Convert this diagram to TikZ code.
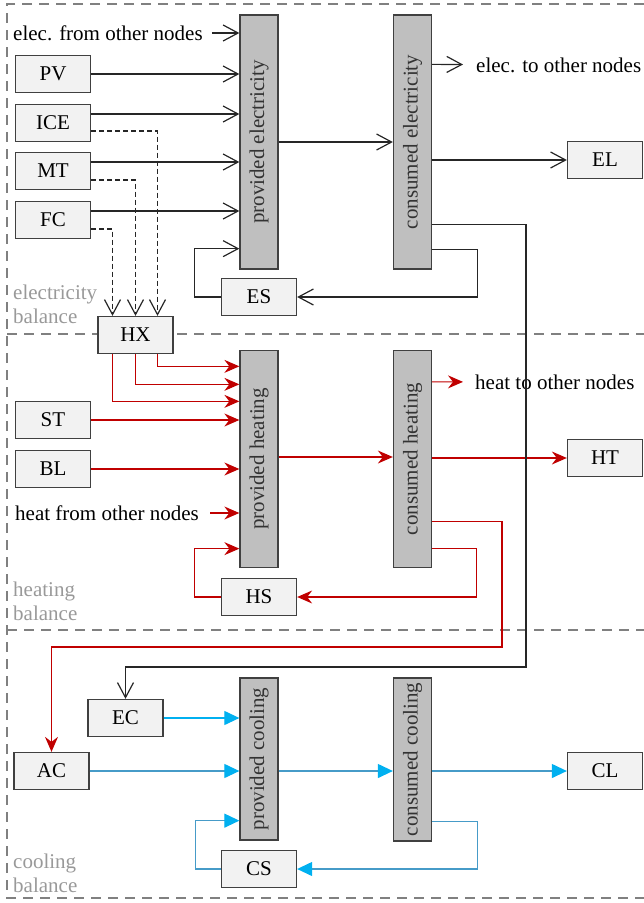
\documentclass[tikz,border=0pt]{standalone}
\usepackage{graphicx}
\usepackage{fontspec}
\setmainfont{Liberation Serif}
\usetikzlibrary{arrows.meta}

\definecolor{heatred}{RGB}{192,0,0}
\definecolor{coolline}{RGB}{70,155,200}
\definecolor{coolhead}{RGB}{0,176,240}
\definecolor{boxfill}{RGB}{242,242,242}
\definecolor{barfill}{RGB}{191,191,191}

\tikzset{
  unit/.style={draw=black!75, fill=boxfill, line width=1.3pt, minimum width=75pt, minimum height=37pt, inner sep=0pt},
  bar/.style={draw=black!75, fill=barfill, line width=1.3pt, minimum width=38pt, inner sep=0pt, text=black!80},
  lbl/.style={inner sep=0pt},
  zone/.style={anchor=base west, align=left, text=black!40, inner sep=0pt},
  elec/.style={black!85, line width=1.2pt, -{Straight Barb[length=15pt, width=16pt]}},
  heat/.style={heatred, line width=1.2pt, -{Stealth[length=15pt, width=13pt, inset=5pt]}},
  cool/.style={coolline, line width=1.2pt, -{Triangle[length=15pt, width=14pt, color=coolhead]}},
  hxdash/.style={dash pattern=on 5pt off 3pt},
  frame/.style={gray, line width=2.5pt, dash pattern=on 10pt off 7pt}
}

\begin{document}
\begin{tikzpicture}[x=1pt, y=-1pt, font=\fontsize{21}{24}\selectfont]
  \useasboundingbox (0,0) rectangle (644,903);

  % 1. Khung ba vung can bang
  \draw[frame] (644,4) -- (7,4) -- (7,898) -- (644,898);
  \draw[frame] (7,334) -- (644,334);
  \draw[frame] (7,630) -- (644,630);
  \node[zone] (zelec) at (13,323) {electricity\\balance};
  \node[zone] (zheat) at (13,620) {heating\\balance};
  \node[zone] (zcool) at (13,892) {cooling\\balance};

  % 2. Can bang dien
  \node[bar, minimum height=254pt] (pelec) at (259,142) {\rotatebox{90}{provided electricity}};
  \node[bar, minimum height=254pt] (celec) at (412.5,142) {\rotatebox{90}{consumed electricity}};
  \node[unit] (pv) at (53,74) {PV};
  \node[unit] (ice) at (53,123) {ICE};
  \node[unit] (mt) at (53,171) {MT};
  \node[unit] (fc) at (53,220) {FC};
  \node[unit] (es) at (259,297) {ES};
  \node[unit] (el) at (605,160) {EL};
  \node[lbl, anchor=west] (efrom) at (13,33) {elec. from other nodes};
  \node[lbl, anchor=west] (eto) at (476,65) {elec. to other nodes};

  \draw[elec, shorten <=9pt] (efrom) -- (efrom -| pelec.west);
  \draw[elec] (pv) -- (pv -| pelec.west);
  \draw[elec] ([yshift=9]ice.east) -- ([yshift=9]ice.east -| pelec.west);
  \draw[elec] ([yshift=9]mt.east) -- ([yshift=9]mt.east -| pelec.west);
  \draw[elec] ([yshift=9]fc.east) -- ([yshift=9]fc.east -| pelec.west);
  \draw[elec] (es.west) -- ++(-26,0) |- ([yshift=21]pelec.south west);
  \draw[elec] (pelec) -- (celec);
  \draw[elec, shorten >=13pt] ([yshift=-50]celec.north east) -- (eto);
  \draw[elec] (celec.east |- el) -- (el);
  \draw[elec] ([yshift=20]celec.south east) -- ++(45,0) |- (es.east);

  % 3. Bo trao doi nhiet HX (duong net dut)
  \node[unit] (hx) at (135.5,335) {HX};
  \draw[elec, hxdash] ([yshift=-8]ice.east) -| ([xshift=22]hx.north);
  \draw[elec, hxdash] ([yshift=-9]mt.east) -| (hx.north);
  \draw[elec, hxdash] ([yshift=-9]fc.east) -| ([xshift=-23]hx.north);

  % 4. Can bang nhiet
  \node[bar, minimum height=217pt] (pheat) at (259,459) {\rotatebox{90}{provided heating}};
  \node[bar, minimum height=217pt] (cheat) at (412.5,459) {\rotatebox{90}{consumed heating}};
  \node[unit] (st) at (53,420) {ST};
  \node[unit] (bl) at (53,469) {BL};
  \node[unit] (hs) at (259,597) {HS};
  \node[unit] (ht) at (605,458) {HT};
  \node[lbl, anchor=west] (hfrom) at (15,513) {heat from other nodes};
  \node[lbl, anchor=west] (hto) at (475,382) {heat to other nodes};

  \draw[heat] ([xshift=22]hx.south) |- ([yshift=-16.5]pheat.north west);
  \draw[heat] (hx.south) |- ([yshift=-34.5]pheat.north west);
  \draw[heat] ([xshift=-23]hx.south) |- ([yshift=-51.5]pheat.north west);
  \draw[heat] (st) -- (st -| pheat.west);
  \draw[heat] (bl) -- (bl -| pheat.west);
  \draw[heat, shorten <=11pt] (hfrom) -- (hfrom -| pheat.west);
  \draw[heat] (hs.west) -- ++(-26,0) |- ([yshift=19.5]pheat.south west);
  \draw[heat] ([yshift=2]pheat.east) -- ([yshift=2]cheat.west);
  \draw[heat, shorten >=12pt] ([yshift=-32]cheat.north east) -- (hto);
  \draw[heat] (cheat.east |- ht) -- (ht);
  \draw[heat] ([yshift=20]cheat.south east) -- ++(44,0) |- (hs.east);

  % 5. Can bang lanh
  \node[bar, minimum height=162pt] (pcool) at (259,759) {\rotatebox{90}{provided cooling}};
  \node[bar, minimum height=163pt] (ccool) at (412.5,759.5) {\rotatebox{90}{consumed cooling}};
  \node[unit] (ec) at (125.5,718) {EC};
  \node[unit] (ac) at (51.5,771) {AC};
  \node[unit] (cs) at (259,869) {CS};
  \node[unit] (cl) at (605,771) {CL};

  % duong cap cho EC va AC
  \coordinate (acturn) at (502,647);
  \coordinate (ecturn) at (526,667);
  \draw[heat] ([yshift=47]cheat.south east) -| (acturn) -| (ac.north);
  \draw[elec] ([yshift=45]celec.south east) -| (ecturn) -| (ec.north);

  \draw[cool, coolhead] (ec) -- (ec -| pcool.west);
  \draw[cool] (ac) -- (ac -| pcool.west);
  \draw[cool] (cs.west) -- ++(-25,0) |- ([yshift=20]pcool.south west);
  \draw[cool] (ac -| pcool.east) -- (ac -| ccool.west);
  \draw[cool] (cl -| ccool.east) -- (cl);
  \draw[cool] ([yshift=20]ccool.south east) -- ++(45,0) |- (cs.east);
\end{tikzpicture}
\end{document}
